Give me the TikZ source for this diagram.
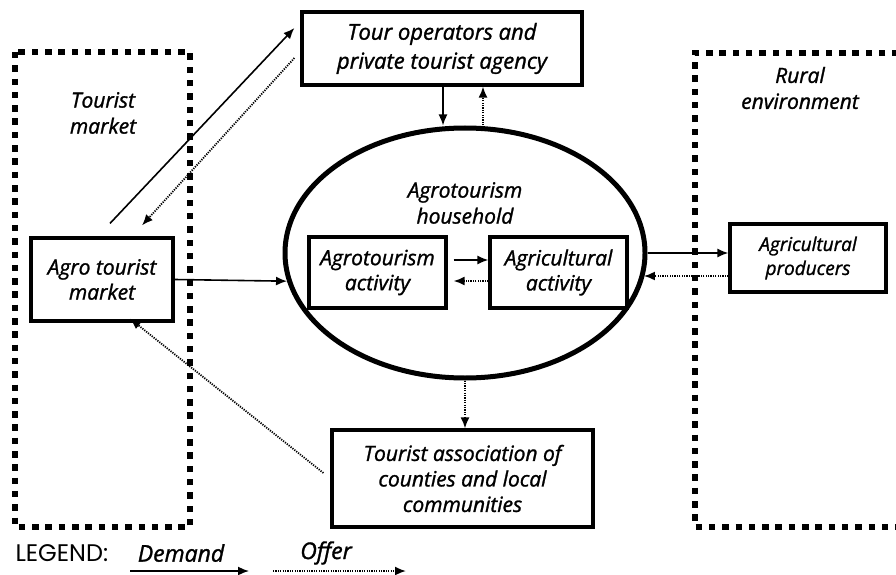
\documentclass[tikz,border=0pt]{standalone}
\usepackage{fontspec}
\setmainfont{Open Sans}[ItalicFeatures={FakeBold=1.3}]
\newfontfamily\legfont{Poppins}
\usetikzlibrary{arrows.meta,shapes.geometric,calc}
\begin{document}
\begin{tikzpicture}[x=1pt,y=-1pt,
  box/.style={draw,line width=3.2pt,rectangle,inner sep=0pt,align=center,
    font=\itshape\fontsize{21}{25}\selectfont},
  lbl/.style={align=center,font=\itshape\fontsize{21}{26}\selectfont},
  zone/.style={line width=6pt,dash pattern=on 6.5pt off 6.8pt},
  demand/.style={line width=1.6pt,-{Latex[length=11pt,width=9pt]}},
  offer/.style={line width=1.8pt,dash pattern=on 1.2pt off 1.2pt,-{Latex[length=11pt,width=9pt]}},
]
\useasboundingbox (0,0) rectangle (896,575);

% zones
\draw[zone] (15,52) rectangle (190,527);
\draw[zone] (912,53) -- (695,53) -- (695,527) -- (912,527);
\node[lbl] (tm) at (103,113) {Tourist\\market};
\node[lbl] (re) at (800,88) {Rural\\environment};

% boxes
\node[box,minimum width=280pt,minimum height=73pt,font=\itshape\fontsize{22}{29}\selectfont] (tour) at (442,48.5) {Tour operators and\\private tourist agency};
\node[box,minimum width=142pt,minimum height=83pt] (agm) at (102,279.5) {Agro tourist\\market};
\node[draw,ellipse,line width=5pt,minimum width=360pt,minimum height=250pt,inner sep=0pt] (ell) at (465,253) {};
\node[lbl] (hh) at (465,203) {Agrotourism\\household};
\node[box,minimum width=137pt,minimum height=71pt] (ata) at (377.5,272.5) {Agrotourism\\activity};
\node[box,minimum width=137pt,minimum height=71pt] (aga) at (558.5,272.5) {Agricultural\\activity};
\node[box,minimum width=156pt,minimum height=68pt,font=\itshape\fontsize{19}{24}\selectfont] (prod) at (808,258) {Agricultural\\producers};
\node[box,minimum width=261pt,minimum height=97pt,font=\itshape\fontsize{21}{25.5}\selectfont] (assoc) at (462.5,478.5) {Tourist association of\\counties and local\\communities};

% helper coordinates
\coordinate (t1) at ($(tour.south)+(1,0)$);
\coordinate (t2) at ($(tour.south)+(41,0)$);
\coordinate (d1s) at ($(agm.north)+(8,-13)$);
\coordinate (d1e) at ($(tour.west)+(-6,-20.5)$);
\coordinate (o1s) at ($(tour.west)+(-6,9.5)$);
\coordinate (o1e) at ($(agm.north)+(40,-11)$);
\coordinate (o2s) at ($(assoc.west)+(-7,-5.5)$);
\coordinate (o2e) at ($(agm.south)+(28,-4)$);
\coordinate (a1) at ($(ata.east)+(6,-12.5)$);
\coordinate (a2) at ($(ata.east)+(6,8.5)$);
\coordinate (p2) at ($(prod.west)+(0,18)$);

% connectors
\draw[demand] (t1) -- (t1 |- ell.north);
\draw[offer] (t2 |- ell.north) -- (t2);
\draw[demand] (d1s) -- (d1e);
\draw[offer] (o1s) -- (o1e);
\draw[demand] (agm.east) -- (ell.189);
\draw[demand] (a1) -- (a1 -| aga.west);
\draw[offer] (a2 -| aga.west) -- (a2);
\draw[demand] (ell.east) -- (ell.east -| prod.west);
\draw[offer] (p2) -- (ell.352.6 |- p2);
\draw[offer] (ell.south) -- (ell.south |- assoc.north);
\draw[offer] (o2s) -- (o2e);

% legend
\node[anchor=west,font=\legfont\fontsize{24}{26}\selectfont] (leg) at (12,553) {LEGEND:};
\node[font=\itshape\fontsize{23}{24}\selectfont] (dem) at (181,553) {Demand};
\node[font=\itshape\fontsize{23}{24}\selectfont] (off) at (326,553) {Offer};
\coordinate (ld1) at (130,571);
\coordinate (ld2) at (249,571);
\coordinate (lo1) at (273,571);
\coordinate (lo2) at (406,571);
\draw[demand] (ld1) -- (ld2);
\draw[offer] (lo1) -- (lo2);
\end{tikzpicture}
\end{document}
